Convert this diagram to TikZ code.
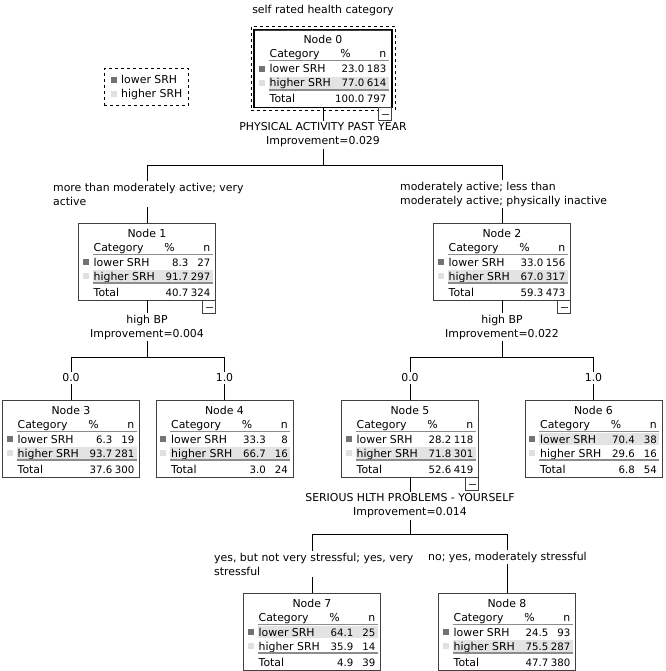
\documentclass[tikz,border=0pt]{standalone}
\usepackage{fontspec}
\setmainfont{DejaVu Sans}
\usetikzlibrary{positioning,fit}

\definecolor{boxline}{gray}{0.25}
\definecolor{rulegray}{gray}{0.55}
\definecolor{bandgray}{gray}{0.89}
\definecolor{lowsq}{gray}{0.45}
\definecolor{highsq}{gray}{0.88}

\tikzstyle{txt}=[inner sep=0pt, font=\fontsize{10.9}{14}\selectfont]
\tikzstyle{num}=[inner sep=0pt, font=\fontsize{10.2}{14}\selectfont]
\tikzstyle{srhbox}=[rectangle, draw=boxline, line width=0.9pt, minimum width=137pt, minimum height=77pt, inner sep=0pt]
\tikzstyle{split}=[txt, align=center, inner sep=2pt]
\tikzstyle{branch}=[txt, align=left, inner sep=2pt]
\tikzstyle{edge}=[draw=black, line width=0.9pt]
\tikzstyle{collapse}=[rectangle, draw=boxline, fill=white, line width=0.8pt, minimum size=13pt, inner sep=0pt, anchor=north east,
  path picture={\draw[line width=0.8pt] ([xshift=-3.5pt]path picture bounding box.center) -- ([xshift=3.5pt]path picture bounding box.center);}]

% #1 node number, #2 centre x, #3 top y, then % and n of lower, higher, total
\newcommand{\srhnode}[9]{%
  \node(n#1)[srhbox] at (#2,#3+38.5) {};
  \ifdim #4pt>#6pt
    \fill[bandgray] (#2-54.5,#3+33) rectangle (#2+65.5,#3+45);
  \else
    \fill[bandgray] (#2-54.5,#3+47) rectangle (#2+65.5,#3+59);
  \fi
  \node[txt, anchor=base] at (#2,#3+14) {Node #1};
  \node[txt, anchor=base west] at (#2-53.5,#3+28) {Category};
  \node[txt, anchor=base] at (#2+22.5,#3+28) {\%};
  \node[txt, anchor=base east] at (#2+63.5,#3+28) {n};
  \draw[rulegray, line width=1pt] (#2-54.5,#3+31) -- (#2+65.5,#3+31);
  \fill[lowsq] (#2-64.5,#3+36) rectangle (#2-58.5,#3+42);
  \fill[highsq] (#2-64.5,#3+50) rectangle (#2-58.5,#3+56);
  \node[txt, anchor=base west] at (#2-53.5,#3+43) {lower SRH};
  \node[num, anchor=base east] at (#2+41.5,#3+43) {#4};
  \node[num, anchor=base east] at (#2+63.5,#3+43) {#5};
  \node[txt, anchor=base west] at (#2-53.5,#3+57) {higher SRH};
  \node[num, anchor=base east] at (#2+41.5,#3+57) {#6};
  \node[num, anchor=base east] at (#2+63.5,#3+57) {#7};
  \draw[rulegray, line width=1.8pt] (#2-54.5,#3+60) -- (#2+65.5,#3+60);
  \node[txt, anchor=base west] at (#2-53.5,#3+73) {Total};
  \node[num, anchor=base east] at (#2+41.5,#3+73) {#8};
  \node[num, anchor=base east] at (#2+63.5,#3+73) {#9};
}

\begin{document}
\begin{tikzpicture}[x=1pt, y=-1pt]
\useasboundingbox (0,0) rectangle (665,671);

\node(title)[txt] at (323,10) {self rated health category};

% legend
\node(legend)[txt, align=left, anchor=west] at (121,87) {lower SRH\\higher SRH};
\fill[lowsq] (111,77) rectangle (117,83);
\fill[highsq] (111,91) rectangle (117,97);
\node(legendbox)[draw=black, dashed, line width=0.7pt, inner sep=6pt, fit={(legend) (110,78)}] {};

% root
\srhnode{0}{323}{30}{23.0}{183}{77.0}{614}{100.0}{797}
\draw[black, line width=1.8pt] (n0.north west) rectangle (n0.south east);
\node(n0frame)[draw=black, dashed, line width=0.7pt, inner sep=3pt, fit=(n0)] {};
\node(m0)[collapse] at (n0.south east) {};
\node(s0)[split] at (323,135) {PHYSICAL ACTIVITY PAST YEAR\\Improvement=0.029};
\draw[edge] (n0) -- (s0);

\coordinate(h0) at (323,165);
\coordinate(b1) at (147,165);
\coordinate(b2) at (502,165);
\draw[edge] (s0) -- (h0);
\draw[edge] (b1) -- (b2);

\node(l1)[branch, anchor=west] at (51,194) {more than moderately active; very\\active};
\node(l2)[branch, anchor=west] at (398,194) {moderately active; less than\\moderately active; physically inactive};
\draw[edge] (b1) -- (b1 |- l1.north);
\draw[edge] (b2) -- (b2 |- l2.north);

% level 1
\srhnode{1}{147}{223}{8.3}{27}{91.7}{297}{40.7}{324}
\srhnode{2}{502}{223}{33.0}{156}{67.0}{317}{59.3}{473}
\draw[edge] (b1 |- l1.south) -- (n1);
\draw[edge] (b2 |- l2.south) -- (n2);
\node(m1)[collapse] at (n1.south east) {};
\node(m2)[collapse] at (n2.south east) {};

\node(s1)[split] at (147,327) {high BP\\Improvement=0.004};
\node(s2)[split] at (502,327) {high BP\\Improvement=0.022};
\draw[edge] (n1) -- (s1);
\draw[edge] (n2) -- (s2);

\coordinate(h1) at (147,357);
\coordinate(b3) at (71,357);
\coordinate(b4) at (224.5,357);
\coordinate(h2) at (502,357);
\coordinate(b5) at (410,357);
\coordinate(b6) at (593.5,357);
\draw[edge] (s1) -- (h1);
\draw[edge] (s2) -- (h2);
\draw[edge] (b3) -- (b4);
\draw[edge] (b5) -- (b6);

\node(l3)[branch] at (71,378) {0.0};
\node(l4)[branch] at (224.5,378) {1.0};
\node(l5)[branch] at (410,378) {0.0};
\node(l6)[branch] at (593.5,378) {1.0};
\draw[edge] (b3) -- (l3);
\draw[edge] (b4) -- (l4);
\draw[edge] (b5) -- (l5);
\draw[edge] (b6) -- (l6);

% level 2
\srhnode{3}{71}{400}{6.3}{19}{93.7}{281}{37.6}{300}
\srhnode{4}{224.5}{400}{33.3}{8}{66.7}{16}{3.0}{24}
\srhnode{5}{410}{400}{28.2}{118}{71.8}{301}{52.6}{419}
\srhnode{6}{593.5}{400}{70.4}{38}{29.6}{16}{6.8}{54}
\draw[edge] (l3) -- (n3);
\draw[edge] (l4) -- (n4);
\draw[edge] (l5) -- (n5);
\draw[edge] (l6) -- (n6);
\node(m5)[collapse] at (n5.south east) {};

\node(s5)[split] at (410,506) {SERIOUS HLTH PROBLEMS - YOURSELF\\Improvement=0.014};
\draw[edge] (n5) -- (s5);

\coordinate(h5) at (410,534);
\coordinate(b7) at (312,534);
\coordinate(b8) at (507,534);
\draw[edge] (s5) -- (h5);
\draw[edge] (b7) -- (b8);

\node(l7)[branch, anchor=west] at (212,564) {yes, but not very stressful; yes, very\\stressful};
\node(l8)[branch, anchor=west] at (426,557) {no; yes, moderately stressful};
\draw[edge] (b7) -- (b7 |- l7.north);
\draw[edge] (b8) -- (b8 |- l8.north);

% level 3
\srhnode{7}{312}{593}{64.1}{25}{35.9}{14}{4.9}{39}
\srhnode{8}{507}{593}{24.5}{93}{75.5}{287}{47.7}{380}
\draw[edge] (b7 |- l7.south) -- (n7);
\draw[edge] (b8 |- l8.south) -- (n8);
\end{tikzpicture}
\end{document}
